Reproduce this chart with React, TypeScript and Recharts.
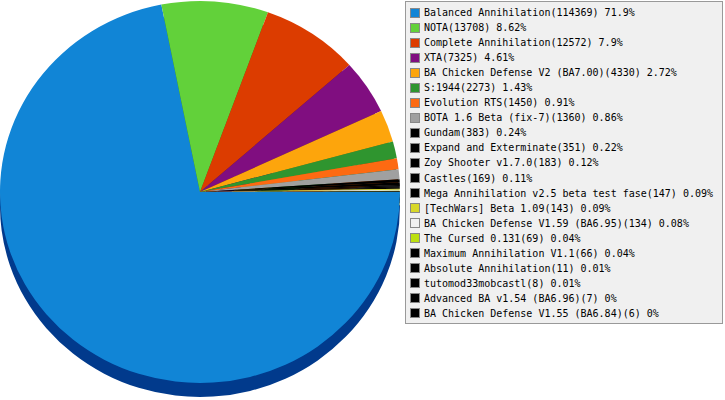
import React from 'react';
import { PieChart, Pie, Cell, Sector, Legend } from 'recharts';

const mods = [
  'Balanced Annihilation',
  'NOTA',
  'Complete Annihilation',
  'XTA',
  'BA Chicken Defense V2 (BA7.00)',
  'S:1944',
  'Evolution RTS',
  'BOTA 1.6 Beta (fix-7)',
  'Gundam',
  'Expand and Exterminate',
  'Zoy Shooter v1.7.0',
  'Castles',
  'Mega Annihilation v2.5 beta test fase',
  '[TechWars] Beta 1.09',
  'BA Chicken Defense V1.59 (BA6.95)',
  'The Cursed 0.131',
  'Maximum Annihilation V1.1',
  'Absolute Annihilation',
  'tutomod33mobcastl',
  'Advanced BA v1.54 (BA6.96)',
  'BA Chicken Defense V1.55 (BA6.84)',
];

const games = [
  114369, 13708, 12572, 7325, 4330, 2273, 1450, 1360, 383, 351, 183, 169, 147, 143, 134, 69,
  66, 11, 8, 7, 6,
];

const shares = [
  '71.9%', '8.62%', '7.9%', '4.61%', '2.72%', '1.43%', '0.91%', '0.86%', '0.24%', '0.22%',
  '0.12%', '0.11%', '0.09%', '0.09%', '0.08%', '0.04%', '0.04%', '0.01%', '0.01%', '0%', '0%',
];

const colors = [
  '#1185d6', '#62d13a', '#dc3c00', '#800e80', '#fda50c', '#2f952f', '#fd6a12', '#a0a0a0',
  '#000000', '#000000', '#000000', '#000000', '#000000', '#d8d82a', '#f0f0f0', '#bce010',
  '#000000', '#000000', '#000000', '#000000', '#000000',
];

const sideColors = [
  '#013a8c', '#2f7a1a', '#7a2000', '#480848', '#a06a08', '#1a5a1a', '#a04008', '#606060',
  '#000000', '#000000', '#000000', '#000000', '#000000', '#8a8a18', '#a0a0a0', '#7a9008',
  '#000000', '#000000', '#000000', '#000000', '#000000',
];

const data = mods.map((name, i) => ({ name, value: games[i] }));

const SQUASH = 0.955;

// flatten each slice a little so the pie looks tilted
const FlatSector = (props: any) => {
  const { cy } = props;
  return (
    <g transform={`translate(0 ${cy}) scale(1 ${SQUASH}) translate(0 ${-cy})`}>
      <Sector {...props} stroke="none" />
    </g>
  );
};

const LegendBox = () => (
  <div
    style={{
      width: 318,
      height: 323,
      boxSizing: 'border-box',
      background: '#f0f0f0',
      border: '1px solid #999',
      padding: '3px 0 0 4px',
      fontFamily: '"DejaVu Sans Mono", monospace',
      fontSize: 10,
      color: '#000',
    }}
  >
    {mods.map((name, i) => (
      <div key={name} style={{ height: 15.05, display: 'flex', alignItems: 'center', whiteSpace: 'nowrap' }}>
        <span
          style={{
            width: 8,
            height: 8,
            background: colors[i],
            border: '1px solid #888',
            marginRight: 4,
            flex: 'none',
          }}
        />
        {`${name}(${games[i]}) ${shares[i]}`}
      </div>
    ))}
  </div>
);

export default function App() {
  return (
    <div style={{ position: 'absolute', left: 0, top: 0, width: 725, height: 400, background: '#fff' }}>
      <PieChart width={725} height={400} margin={{ top: 0, right: 0, bottom: 0, left: 0 }}>
        <Pie
          data={data}
          dataKey="value"
          cx={200}
          cy={206}
          outerRadius={200}
          startAngle={0}
          endAngle={-360}
          shape={FlatSector}
          isAnimationActive={false}
          legendType="none"
        >
          {data.map((d, i) => (
            <Cell key={d.name} fill={sideColors[i]} />
          ))}
        </Pie>
        <Pie
          data={data}
          dataKey="value"
          cx={200}
          cy={192}
          outerRadius={200}
          startAngle={0}
          endAngle={-360}
          shape={FlatSector}
          isAnimationActive={false}
        >
          {data.map((d, i) => (
            <Cell key={d.name} fill={colors[i]} />
          ))}
        </Pie>
        <Legend
          layout="vertical"
          align="right"
          verticalAlign="top"
          content={() => <LegendBox />}
          wrapperStyle={{ left: 405, top: 1, width: 318 }}
        />
      </PieChart>
    </div>
  );
}
